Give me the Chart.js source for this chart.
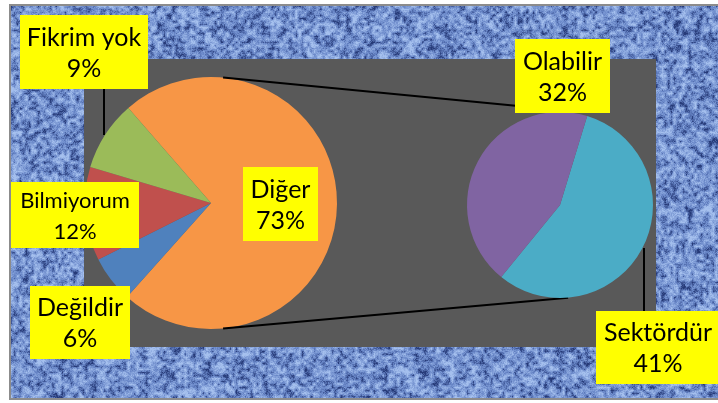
<!DOCTYPE html>
<html><head><meta charset="utf-8">
<script src="https://cdn.jsdelivr.net/npm/chart.js@4"></script>
<style>
html,body{margin:0;padding:0;background:#fff;width:718px;height:403px;overflow:hidden}
#frame{position:absolute;left:9px;top:4px;width:720px;height:392px;border:2px solid #8c8c8c;overflow:hidden}
#tex{position:absolute;left:0;top:0}
canvas.c{position:absolute;left:0;top:0}
</style></head><body>
<div id="frame"><canvas id="tex" width="720" height="392"></canvas></div>
<canvas id="main" class="c" width="718" height="403"></canvas>
<canvas id="sec" class="c" width="718" height="403"></canvas>
<script>
// ---- data ----
const mainLabels = ['Diğer', 'Değildir', 'Bilmiyorum', 'Fikrim yok'];
const mainValues = [73, 6, 12, 9];
const subLabels = ['Sektördür', 'Olabilir'];
const subValues = [41, 32];

const mainColors = ['#F79646', '#4F81BD', '#C0504D', '#9BBB59'];
const subColors = ['#4BACC6', '#8064A2'];
const FONT = 'Lato, "Open Sans", sans-serif';

// label boxes (manually placed, as in the original)
const mainBoxes = [
  {x: 243, y: 167, w: 75, h: 74, size: 25},
  {x: 30, y: 286, w: 100, h: 73, size: 25},
  {x: 11, y: 182, w: 128, h: 66, size: 22},
  {x: 20, y: 15, w: 128, h: 74, size: 25}
];
const subBoxes = [
  {x: 596, y: 311, w: 124, h: 73, size: 25},
  {x: 515, y: 39, w: 95, h: 74, size: 25}
];

// ---- background texture ----
(function () {
  const c = document.getElementById('tex'), g = c.getContext('2d');
  const W = c.width, H = c.height;
  const img = g.createImageData(W, H);
  function h(x, y, s) {
    let n = Math.imul(x, 374761393) + Math.imul(y, 668265263) + Math.imul(s, 1442695041);
    n = Math.imul(n ^ (n >>> 13), 1274126177);
    n = n ^ (n >>> 16);
    return (n >>> 0) / 4294967295;
  }
  function smooth(x, y, cell, s) {
    const fx = x / cell, fy = y / cell;
    const x0 = Math.floor(fx), y0 = Math.floor(fy);
    const tx = fx - x0, ty = fy - y0;
    const a = h(x0, y0, s), b = h(x0 + 1, y0, s), c2 = h(x0, y0 + 1, s), d = h(x0 + 1, y0 + 1, s);
    return (a * (1 - tx) + b * tx) * (1 - ty) + (c2 * (1 - tx) + d * tx) * ty;
  }
  for (let y = 0; y < H; y++) {
    for (let x = 0; x < W; x++) {
      let v = 0.55 * smooth(x, y, 3, 1) + 0.25 * smooth(x, y, 7, 2) + 0.2 * h(x, y, 3);
      v = Math.min(1, Math.max(0, (v - 0.5) * 1.7 + 0.55));
      let r, gg, b;
      if (v < 0.45) { const t = v / 0.45; r = 38 + t * 67; gg = 58 + t * 77; b = 120 + t * 80; }
      else { const t = (v - 0.45) / 0.55; r = 105 + t * 60; gg = 135 + t * 57; b = 200 + t * 38; }
      const i = (y * W + x) * 4;
      img.data[i] = r; img.data[i + 1] = gg; img.data[i + 2] = b; img.data[i + 3] = 255;
    }
  }
  g.putImageData(img, 0, 0);
})();

function drawBox(ctx, box, lines) {
  ctx.save();
  ctx.fillStyle = '#FFFF00';
  ctx.fillRect(box.x, box.y, box.w, box.h);
  ctx.fillStyle = '#000';
  ctx.font = box.size + 'px ' + FONT;
  ctx.textAlign = 'center';
  ctx.textBaseline = 'middle';
  const cy = box.y + box.h / 2 + 1;
  const lh = 31;
  ctx.fillText(lines[0], box.x + box.w / 2, cy - lh / 2);
  ctx.fillText(lines[1], box.x + box.w / 2, cy + lh / 2);
  ctx.restore();
}

const plotAreaPlugin = {
  id: 'plotArea',
  beforeDraw(chart) {
    const ctx = chart.ctx;
    ctx.save();
    ctx.fillStyle = '#595959';
    ctx.fillRect(84, 59, 572, 288);
    ctx.restore();
  }
};

const mainLabelPlugin = {
  id: 'mainLabels',
  afterDatasetsDraw(chart) {
    const ctx = chart.ctx;
    ctx.save();
    ctx.strokeStyle = '#000'; ctx.lineWidth = 2;
    ctx.beginPath(); ctx.moveTo(104, 89); ctx.lineTo(104, 135); ctx.stroke();
    ctx.restore();
    mainLabels.forEach((l, i) => drawBox(ctx, mainBoxes[i], [l, mainValues[i] + '%']));
  }
};

const mainChart = new Chart(document.getElementById('main'), {
  type: 'pie',
  data: { labels: mainLabels, datasets: [{ data: mainValues, backgroundColor: mainColors, borderWidth: 0 }] },
  options: {
    responsive: false, animation: false, events: [],
    rotation: -41,
    layout: { padding: { left: 85, right: 381, top: 77, bottom: 74 } },
    plugins: { legend: { display: false }, tooltip: { enabled: false } }
  },
  plugins: [plotAreaPlugin, mainLabelPlugin]
});

const connectorPlugin = {
  id: 'connectors',
  beforeDatasetsDraw(chart) {
    const ctx = chart.ctx;
    const m = mainChart.getDatasetMeta(0).data[0];
    const s = chart.getDatasetMeta(0).data[0];
    const a1 = 5.5 * Math.PI / 180, a2 = 5 * Math.PI / 180;
    ctx.save();
    ctx.strokeStyle = '#000'; ctx.lineWidth = 2;
    ctx.beginPath();
    ctx.moveTo(m.x + m.outerRadius * Math.sin(a1), m.y - m.outerRadius * Math.cos(a1));
    ctx.lineTo(s.x + s.outerRadius * Math.sin(-a2), s.y - s.outerRadius * Math.cos(a2) - 3);
    ctx.moveTo(m.x + m.outerRadius * Math.sin(a1), m.y + m.outerRadius * Math.cos(a1));
    ctx.lineTo(s.x + s.outerRadius * Math.sin(a2), s.y + s.outerRadius * Math.cos(a2));
    ctx.stroke();
    ctx.restore();
  },
  afterDatasetsDraw(chart) {
    const ctx = chart.ctx;
    ctx.save();
    ctx.strokeStyle = '#000'; ctx.lineWidth = 2;
    ctx.beginPath(); ctx.moveTo(644, 248); ctx.lineTo(644, 311); ctx.stroke();
    ctx.restore();
    subLabels.forEach((l, i) => drawBox(ctx, subBoxes[i], [l, subValues[i] + '%']));
  }
};

new Chart(document.getElementById('sec'), {
  type: 'pie',
  data: { labels: subLabels, datasets: [{ data: subValues, backgroundColor: subColors, borderWidth: 0 }] },
  options: {
    responsive: false, animation: false, events: [],
    rotation: 17,
    layout: { padding: { left: 467, right: 65, top: 112, bottom: 105 } },
    plugins: { legend: { display: false }, tooltip: { enabled: false } }
  },
  plugins: [connectorPlugin]
});
</script>
</body></html>
